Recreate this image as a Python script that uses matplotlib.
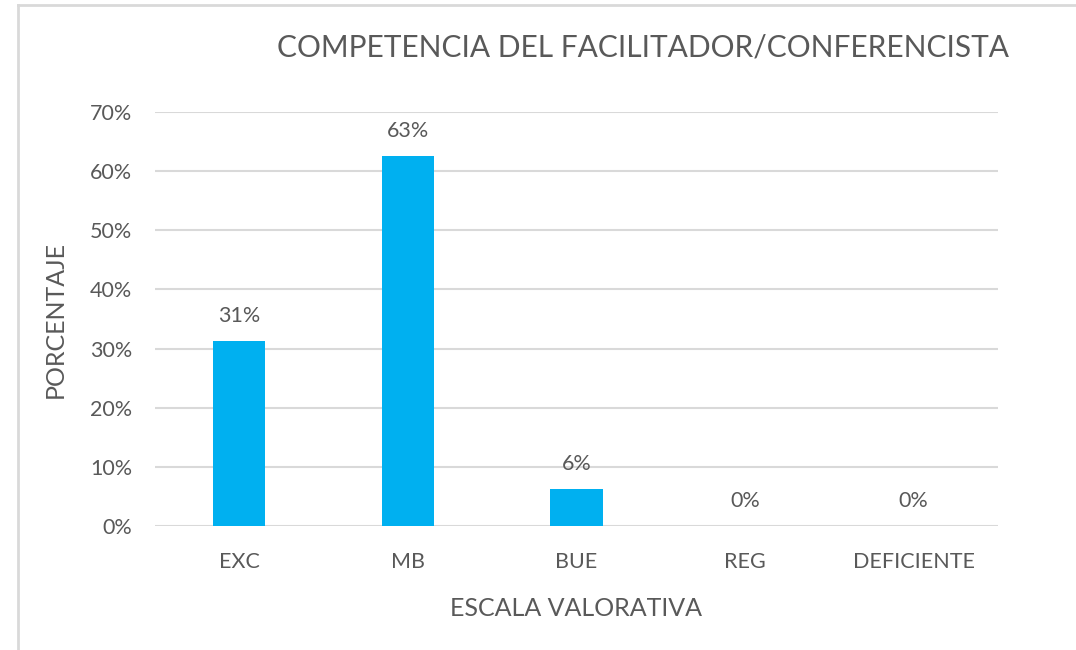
import matplotlib.pyplot as plt
from matplotlib.lines import Line2D

categorias = ['EXC', 'MB', 'BUE', 'REG', 'DEFICIENTE']
porcentajes = [0.3125, 0.625, 0.0625, 0.0, 0.0]
etiquetas = ['31%', '63%', '6%', '0%', '0%']
yticks = [0, 0.1, 0.2, 0.3, 0.4, 0.5, 0.6, 0.7]

gris = '#595959'
plt.rcParams['font.family'] = ['Lato', 'DejaVu Sans']

fig = plt.figure(figsize=(10.76, 6.5), dpi=100)
ax = fig.add_axes([155 / 1076, 1 - 526 / 650, (998 - 155) / 1076, (526 - 112) / 650])

x = range(len(categorias))
bars = ax.bar(x, porcentajes, width=0.31, color='#00B0F0', zorder=3)
for b, t in zip(bars, etiquetas):
    ax.annotate(t, (b.get_x() + b.get_width() / 2, b.get_height()),
                xytext=(0, 11), textcoords='offset points',
                ha='center', va='bottom', fontsize=15.5, color=gris)

ax.set_xlim(-0.5, len(categorias) - 0.5)
ax.set_ylim(0, 0.7)
ax.set_yticks(yticks)
ax.set_yticklabels([f'{int(round(v * 100))}%' for v in yticks])
ax.set_xticks(list(x))
ax.set_xticklabels(categorias)
ax.tick_params(axis='both', length=0, labelsize=15.5, labelcolor=gris)
ax.tick_params(axis='y', pad=16.5)
ax.tick_params(axis='x', pad=19)
ax.yaxis.grid(True, color='#D9D9D9', linewidth=1.5, zorder=0)
for s in ax.spines.values():
    s.set_visible(False)

ax.set_ylabel('PORCENTAJE', fontsize=18, color=gris)
ax.yaxis.set_label_coords((67 - 155) / 843, 0.5)
ax.set_xlabel('ESCALA VALORATIVA', fontsize=18, color=gris)
ax.xaxis.set_label_coords(0.5, (526 - 597) / 414)
fig.text(643 / 1076, 1 - 47 / 650, 'COMPETENCIA DEL FACILITADOR/CONFERENCISTA',
         ha='center', va='center', fontsize=21.5, color=gris)

# borde del marco
fig.add_artist(Line2D([18 / 1076, 1], [1 - 5 / 650, 1 - 5 / 650], color='#D9D9D9', lw=2))
fig.add_artist(Line2D([18 / 1076, 18 / 1076], [0, 1 - 5 / 650], color='#D9D9D9', lw=2))

fig.savefig('out.png', dpi=100)
